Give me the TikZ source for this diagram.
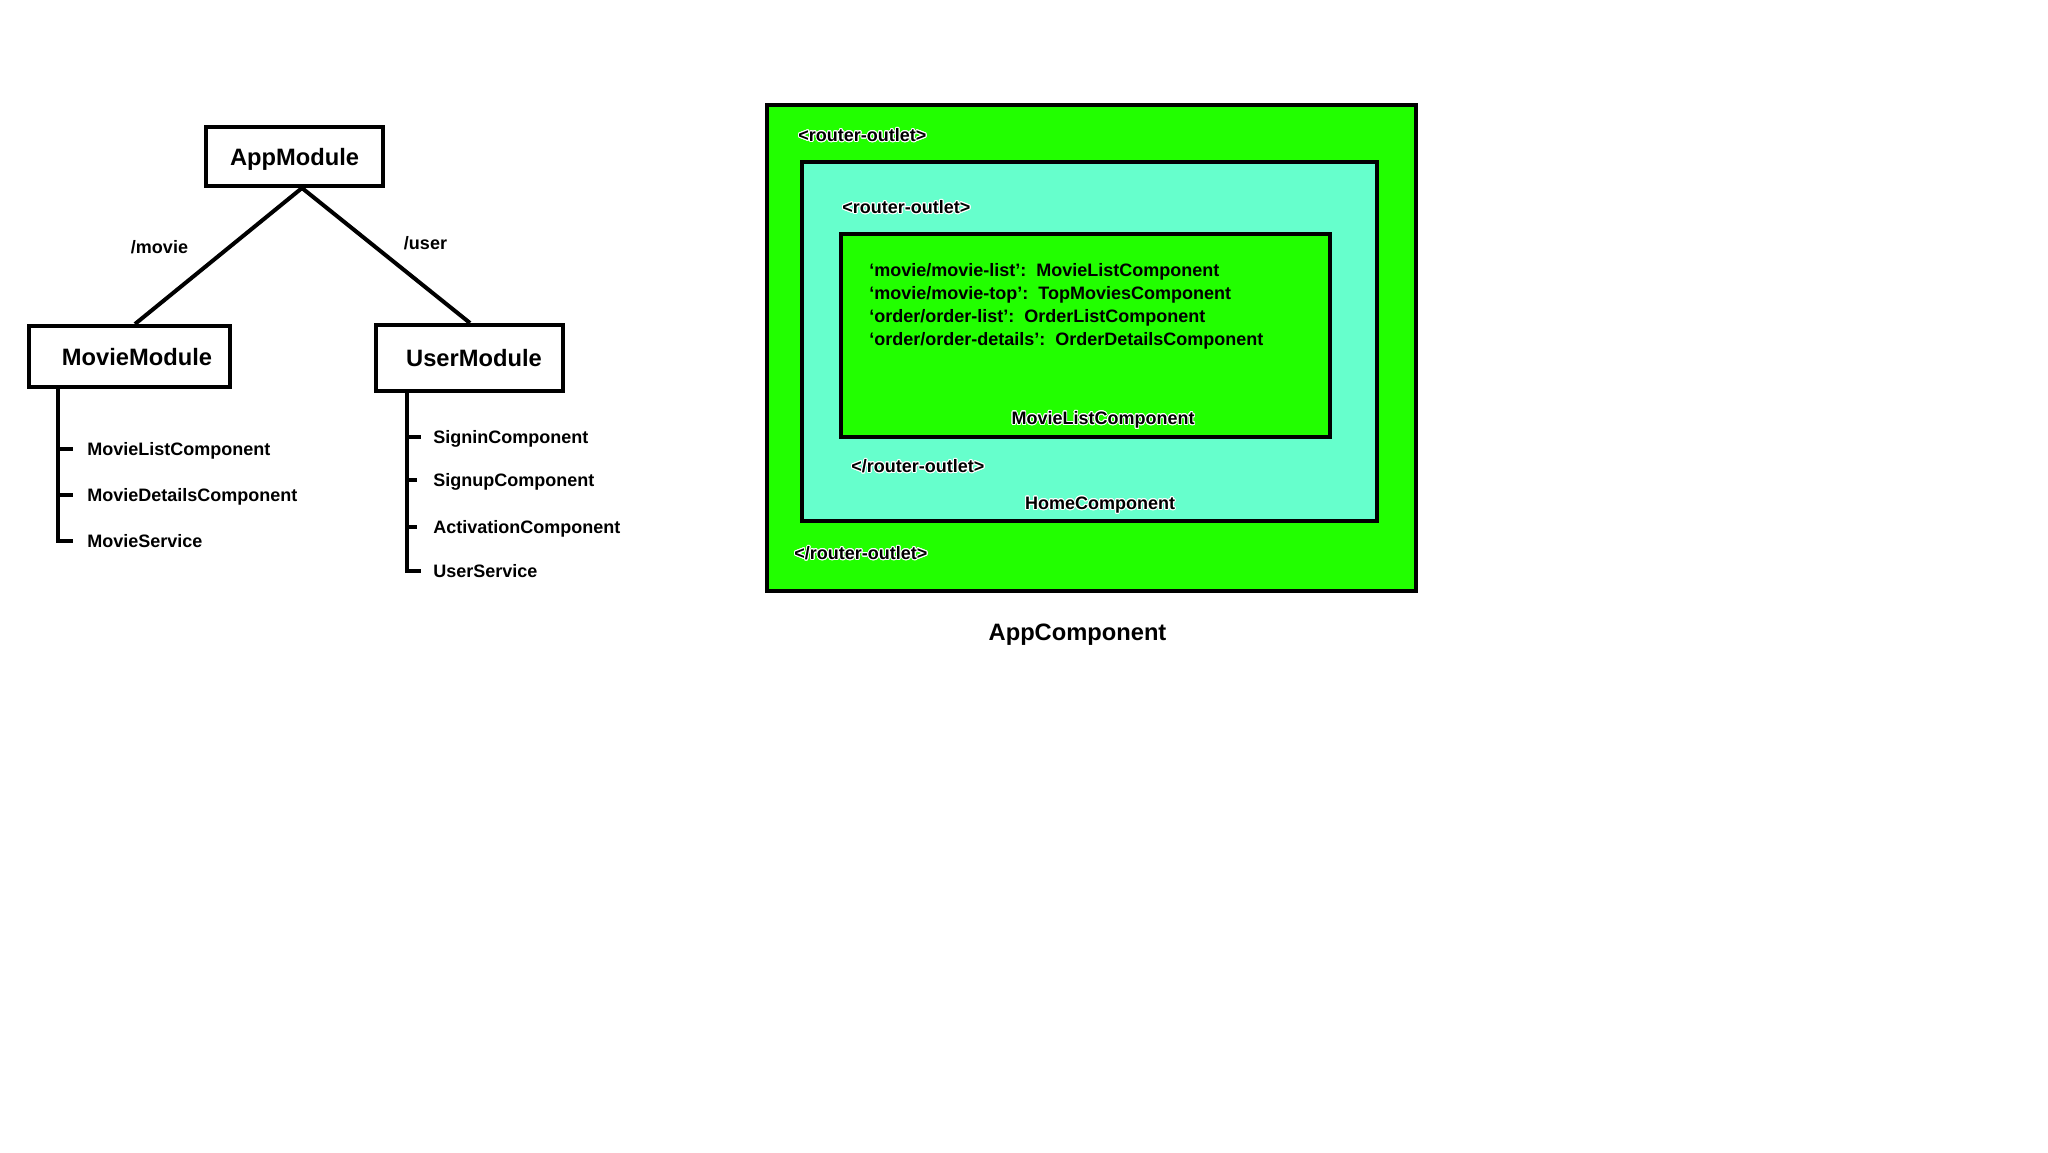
\documentclass[tikz,border=0pt]{standalone}
\usepackage{fontspec}
\setmainfont{Liberation Sans}
\usepackage{contour}
\contourlength{0.45pt}
\usetikzlibrary{calc}
\definecolor{routegreen}{HTML}{22FF00}
\definecolor{homecyan}{HTML}{66FFCC}
\begin{document}
\begin{tikzpicture}[x=0.5pt,y=-0.5pt,
  big/.style={font=\fontsize{11.85}{14}\selectfont\bfseries, text height=8.5pt, text depth=0pt},
  small/.style={font=\fontsize{9}{11}\selectfont\bfseries, text height=6.5pt, text depth=0pt},
  modbox/.style={draw, line width=2pt, fill=white, big, inner sep=0pt},
  item/.style={small, anchor=west, inner sep=0pt},
  lbl/.style={small, inner sep=0pt},
  link/.style={line width=2pt},
  frame/.style={draw, line width=2pt, inner sep=0pt},
]
\useasboundingbox[fill=white] (0,0) rectangle (2048,1152);

% ---------- module tree ----------
\node[modbox, minimum width=88.5pt, minimum height=29.5pt] (app) at (294.5,156.5) {AppModule};
\node[modbox, minimum width=100.5pt, minimum height=30.5pt] (movie) at (129.5,356.5) {\hspace*{7.5pt}MovieModule};
\node[modbox, minimum width=93.5pt, minimum height=33pt] (user) at (469.5,358) {\hspace*{4.5pt}UserModule};

\draw[link] ($(app.south)+(7.5,0)$) -- ($(movie.north)+(5.5,0)$);
\draw[link] ($(app.south)+(7.5,0)$) -- ($(user.north)+(0.5,0)$);

\node[lbl] (lmovie) at (159.5,247) {/movie};
\node[lbl] (luser) at (425.5,243) {/user};

% MovieModule members
\coordinate (mstem) at (58,0);
\node[item] (mlc) at (87,449) {MovieListComponent};
\node[item] (mdc) at (87,495) {MovieDetailsComponent};
\node[item] (msv) at (87,541) {MovieService};
\draw[link] (movie.south -| mstem) |- ($(msv.west)+(-14,0)$);
\draw[link] (mlc.west -| mstem) -- ($(mlc.west)+(-14,0)$);
\draw[link] (mdc.west -| mstem) -- ($(mdc.west)+(-14,0)$);

% UserModule members
\coordinate (ustem) at (407,0);
\node[item] (sin) at (433,437) {SigninComponent};
\node[item] (sup) at (433,480) {SignupComponent};
\node[item] (act) at (433,527) {ActivationComponent};
\node[item] (usv) at (433,571) {UserService};
\draw[link] (user.south -| ustem) |- ($(usv.west)+(-12,0)$);
\draw[link] (sin.west -| ustem) -- ($(sin.west)+(-12,0)$);
\draw[link] (sup.west -| ustem) -- ($(sup.west)+(-16,0)$);
\draw[link] (act.west -| ustem) -- ($(act.west)+(-16,0)$);

% ---------- component nesting ----------
\node[frame, fill=routegreen, minimum width=324.5pt, minimum height=243pt] (appc) at (1091.5,348) {};
\node[frame, fill=homecyan, minimum width=287.5pt, minimum height=179.5pt] (homec) at (1089.5,341.5) {};
\node[frame, fill=routegreen, minimum width=244.5pt, minimum height=101.5pt] (mlcbox) at (1085.5,335.5) {};

\node[item] (ro1) at (798,135) {\contour{white}{<router-outlet>}};
\node[item] (ro2) at (842,207) {\contour{white}{<router-outlet>}};
\node[item] (r1) at (869,270) {‘movie/movie-list’:\ \ MovieListComponent};
\node[item] (r2) at (869,293) {‘movie/movie-top’:\ \ TopMoviesComponent};
\node[item] (r3) at (869,316) {‘order/order-list’:\ \ OrderListComponent};
\node[item] (r4) at (869,339) {‘order/order-details’:\ \ OrderDetailsComponent};
\node[lbl] (mlcname) at (1103,418) {\contour{white}{MovieListComponent}};
\node[item] (rc2) at (851,466) {\contour{white}{</router-outlet>}};
\node[lbl] (homename) at (1100,503) {\contour{white}{HomeComponent}};
\node[item] (rc1) at (794,553) {\contour{white}{</router-outlet>}};

\node[big, inner sep=0pt] (appname) at (1077.5,632) {AppComponent};
\end{tikzpicture}
\end{document}
